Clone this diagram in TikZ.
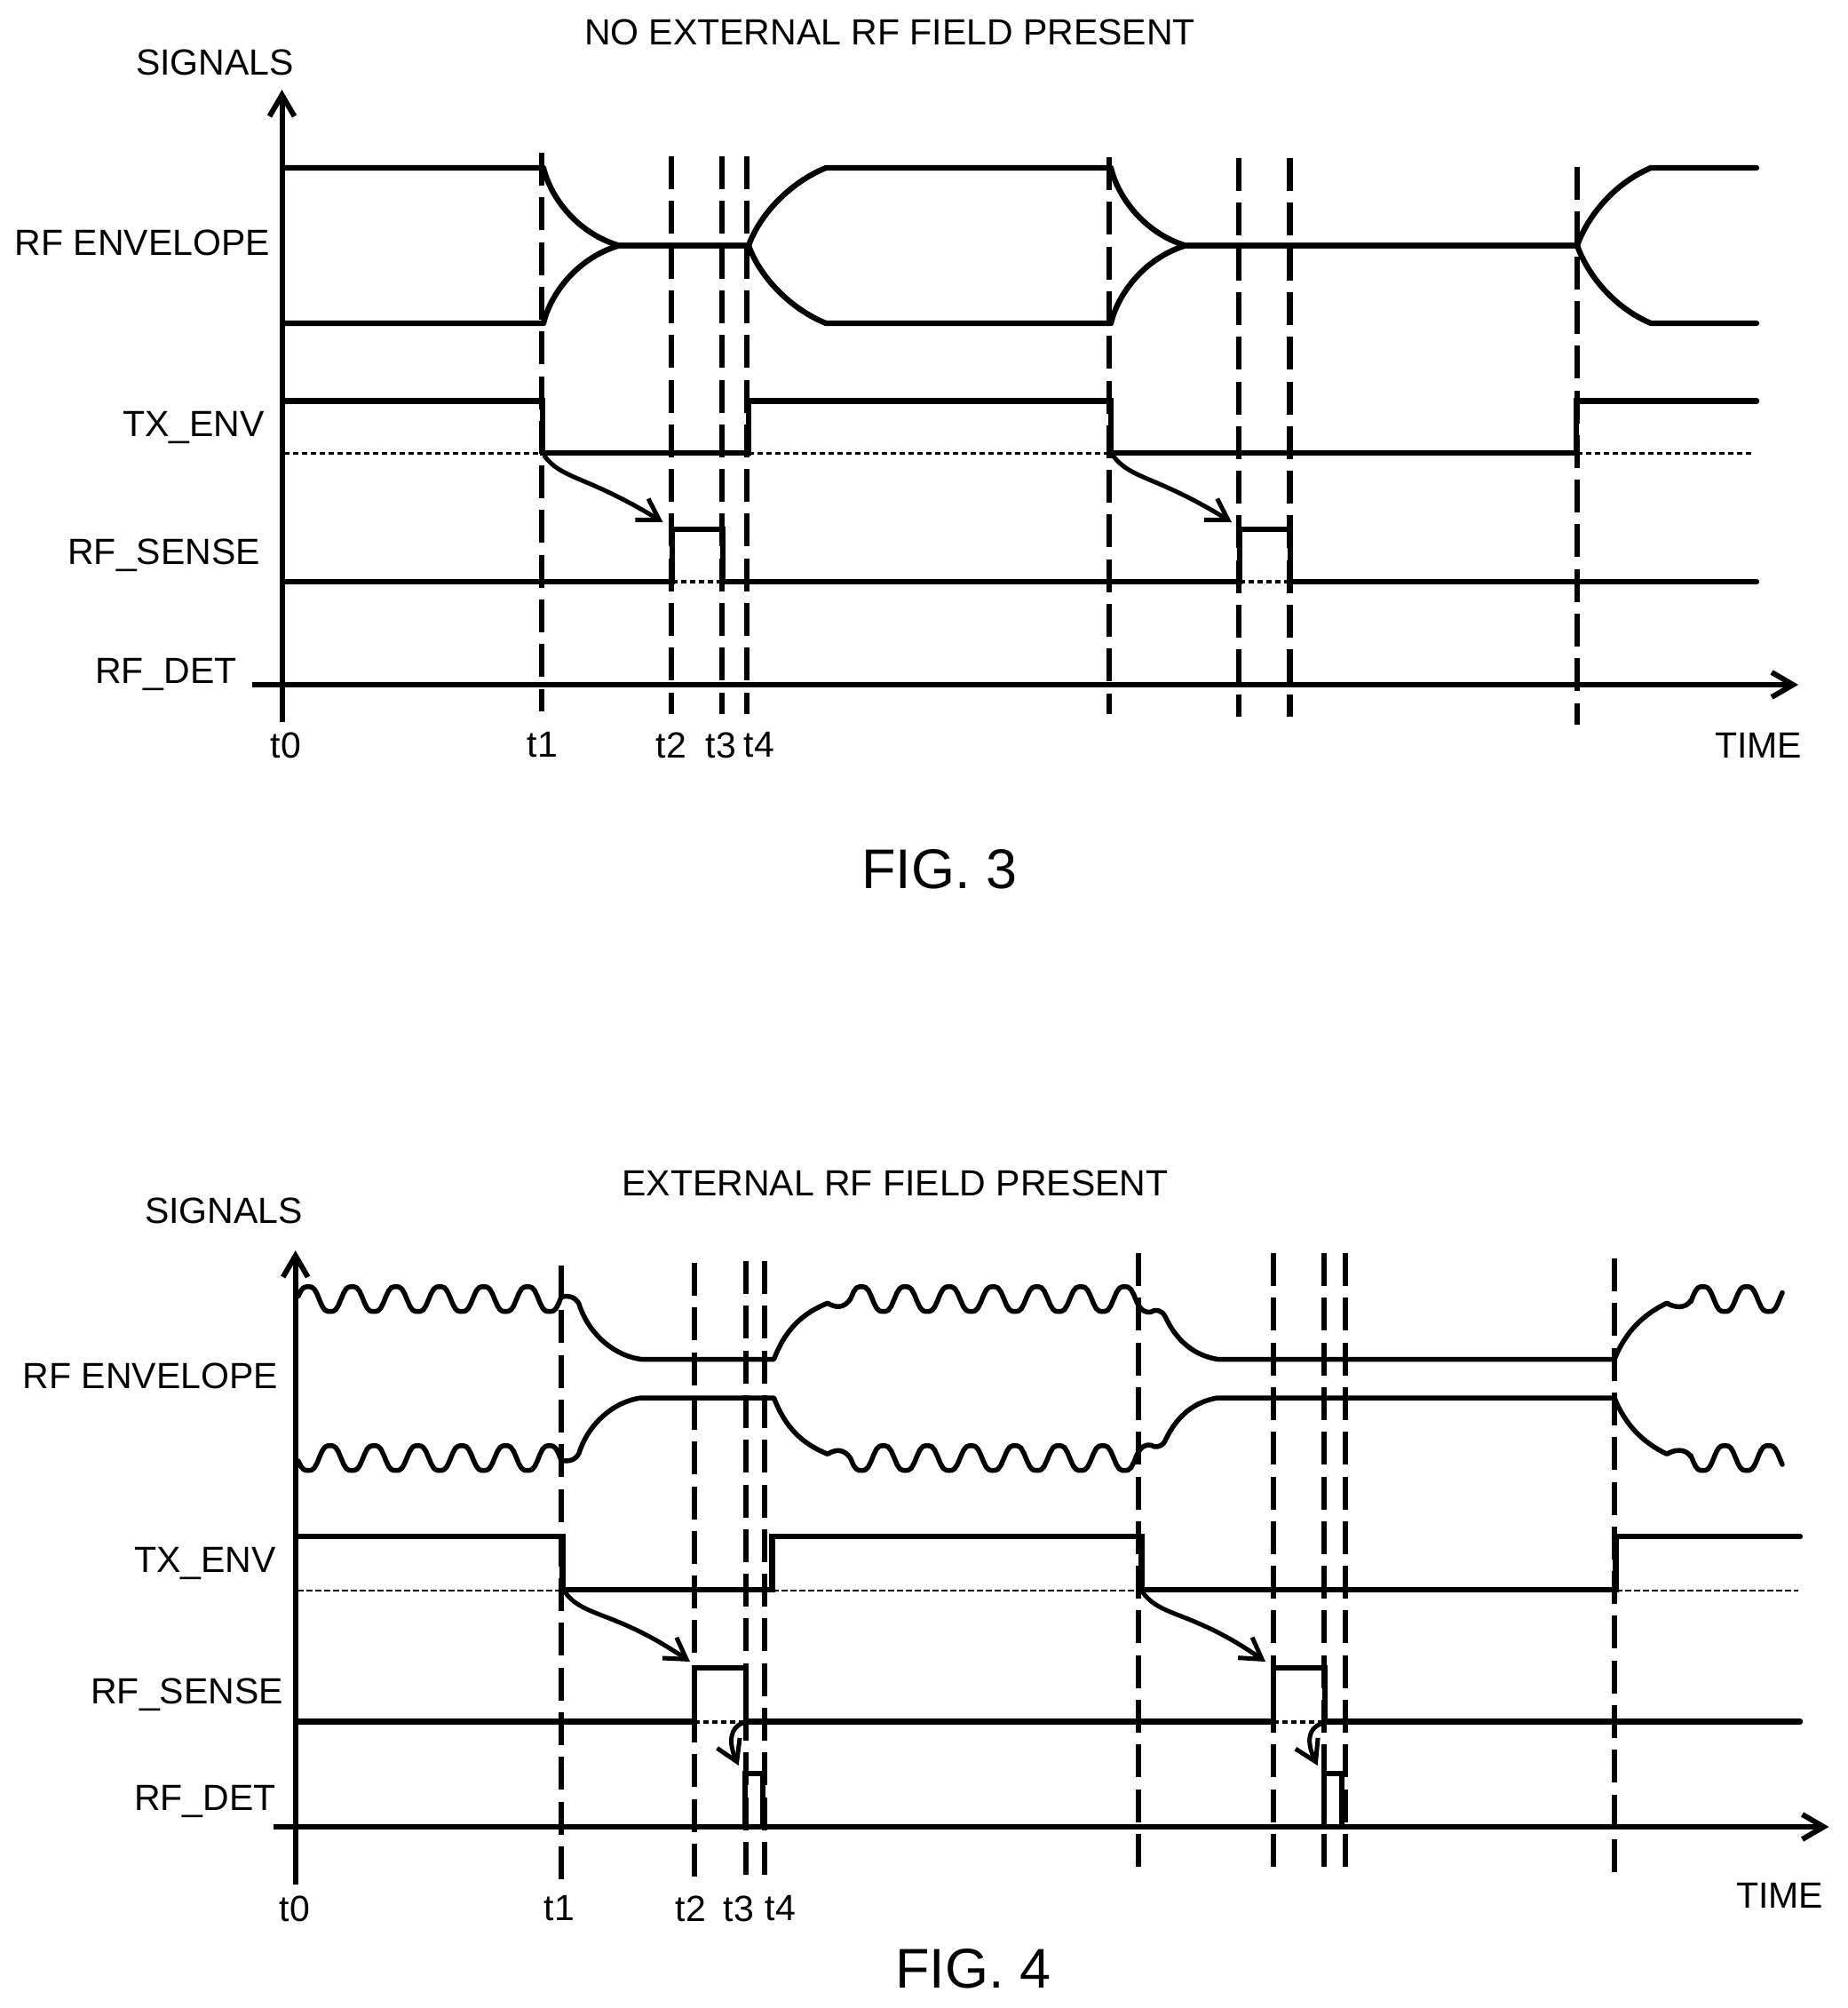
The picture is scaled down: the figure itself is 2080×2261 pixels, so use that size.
\documentclass[tikz,border=0pt]{standalone}
\usepackage{fontspec}
\setmainfont{Liberation Sans}
\usetikzlibrary{arrows.meta, calc}
\tikzset{
    x=1pt, y=-1pt,
    % --- text styles ---
    styleLabel/.style={inner sep=0pt, font=\fontsize{41}{49}\selectfont},
    styleSig/.style={styleLabel, anchor=east},
    styleFig/.style={inner sep=0pt, font=\fontsize{63}{75}\selectfont},
    % --- line styles ---
    axis/.style={line width=6pt, -{Straight Barb[length=24pt, width=28pt]}},
    trace/.style={line width=6.3pt, line join=miter, line cap=round},
    envLine/.style={line width=6.3pt, line join=round, line cap=round},
    envThin/.style={line width=5.5pt, line join=round, line cap=round},
    timeMark/.style={line width=6.2pt, dash pattern=on 37pt off 13.3pt},
    lowDots/.style={line width=3pt, dash pattern=on 6pt off 4pt},
    lowDash/.style={line width=2pt, dash pattern=on 7pt off 3pt},
    pulseDots/.style={line width=4pt, dash pattern=on 6pt off 4pt},
    causeArrow/.style={line width=5pt, -{Straight Barb[length=23pt, width=28pt]}}
}
% ripple on the RF envelope, with the x of one crest
\newcommand{\rfRipple}[1]{-89.5-15.5*cos(7.287*(\x-#1))+1.5*cos(21.86*(\x-#1))}

\begin{document}
\begin{tikzpicture}
	\useasboundingbox (0,0) rectangle (2080,2261);

	% =========================================================
	% FIG. 3
	% =========================================================
	\node[styleLabel] (title3) at (1002,36) {NO EXTERNAL RF FIELD PRESENT};
	\node[styleLabel] (signals3) at (242,70) {SIGNALS};
	\node[styleSig] (env3) at (304,273) {RF ENVELOPE};
	\node[styleSig] (tx3) at (298,481) {TX\_ENV};
	\node[styleSig] (sense3) at (293,625) {RF\_SENSE};
	\node[styleSig] (det3) at (267,759) {RF\_DET};
	\node[styleLabel] (t0a) at (322,839) {t0};
	\node[styleLabel] (t1a) at (611,839) {t1};
	\node[styleLabel] (t2a) at (756,839) {t2};
	\node[styleLabel] (t3a) at (812,839) {t3};
	\node[styleLabel] (t4a) at (855,839) {t4};
	\node[styleLabel] (time3) at (1980,839) {TIME};
	\node[styleFig] (fig3) at (1058,979) {FIG. 3};

	% --- axes ---
	\coordinate (y3a) at (317.5,813);
	\coordinate (y3b) at (317.5,101);
	\coordinate (x3a) at (284,771);
	\coordinate (x3b) at (2025,771);
	\draw [axis] (y3a) -- (y3b);
	\draw [axis] (x3a) -- (x3b);

	% --- time markers ---
	\foreach \n/\x/\a/\b in {a/610/172/801, b/756/176/804, c/813/176/804, d/841/176/804,
			e/1249/177/804, f/1395/178/807, g/1452.5/178/807, h/1776/188/816} {
			\coordinate (m3\n top) at (\x,\a);
			\coordinate (m3\n bot) at (\x,\b);
			\draw [timeMark] (m3\n top) -- (m3\n bot);
		}

	% --- RF envelope ---
	\foreach \s in {-1,1} {
			\begin{scope}[shift={(0,276.5)}, y=\s pt]
				\draw [envLine] (320,-87.5) -- (612,-87.5)
					.. controls (620,-54) and (650,-14) .. (697,0) -- (843,0)
					.. controls (856,-36) and (890,-71) .. (930,-87.5) -- (1251,-87.5)
					.. controls (1259,-54) and (1289,-14) .. (1335,0) -- (1776,0)
					.. controls (1789,-36) and (1820,-71) .. (1859,-87.5) -- (1978,-87.5);
			\end{scope}
		}

	% --- TX_ENV ---
	\draw [lowDots] (320,510) -- (611,510);
	\draw [lowDots] (843,510) -- (1251,510);
	\draw [lowDots] (1776,510) -- (1974,510);
	\draw [trace] (320,451.5) -- (611,451.5) -- (611,510) -- (843,510) -- (843,451.5)
		-- (1251,451.5) -- (1251,510) -- (1775,510) -- (1775,451.5) -- (1978,451.5);

	% --- RF_SENSE ---
	\draw [pulseDots] (757,655) -- (814,655);
	\draw [pulseDots] (1396,655) -- (1453,655);
	\draw [trace] (320,655) -- (757,655) -- (757,596) -- (814,596) -- (814,655);
	\draw [trace] (814,655) -- (1396,655) -- (1396,596) -- (1453,596) -- (1453,655) -- (1978,655);

	% --- cause arrows ---
	\coordinate (c3a) at (612.6,512.6);
	\coordinate (e3a) at (746.5,588);
	\coordinate (c3b) at (1253,512.6);
	\coordinate (e3b) at (1387,588);
	\draw [causeArrow] (c3a) .. controls (632,540) and (660,535) .. (e3a);
	\draw [causeArrow] (c3b) .. controls (1273,540) and (1301,535) .. (e3b);

	% =========================================================
	% FIG. 4
	% =========================================================
	\node[styleLabel] (title4) at (1008,1332) {EXTERNAL RF FIELD PRESENT};
	\node[styleLabel] (signals4) at (252,1363) {SIGNALS};
	\node[styleSig] (env4) at (313,1549) {RF ENVELOPE};
	\node[styleSig] (tx4) at (311,1760) {TX\_ENV};
	\node[styleSig] (sense4) at (319,1908.5) {RF\_SENSE};
	\node[styleSig] (det4) at (311,2028) {RF\_DET};
	\node[styleLabel] (t0b) at (332,2149) {t0};
	\node[styleLabel] (t1b) at (630,2149) {t1};
	\node[styleLabel] (t2b) at (778,2149) {t2};
	\node[styleLabel] (t3b) at (832,2149) {t3};
	\node[styleLabel] (t4b) at (879,2149) {t4};
	\node[styleLabel] (time4) at (2004,2134) {TIME};
	\node[styleFig] (fig4) at (1096,2217) {FIG. 4};

	% --- axes ---
	\coordinate (y4a) at (332.7,2122);
	\coordinate (y4b) at (332.7,1408);
	\coordinate (x4a) at (308,2057);
	\coordinate (x4b) at (2059.5,2057);
	\draw [axis] (y4a) -- (y4b);
	\draw [axis] (x4a) -- (x4b);

	% --- time markers ---
	\foreach \n/\x/\a/\b in {a/632/1425/2117, b/782/1422/2114, c/840/1420/2114, d/861/1420/2114,
			e/1282/1411/2102, f/1434/1411/2102, g/1491/1411/2102, h/1515/1411/2102, i/1818/1417/2108} {
			\coordinate (m4\n top) at (\x,\a);
			\coordinate (m4\n bot) at (\x,\b);
			\draw [timeMark] (m4\n top) -- (m4\n bot);
		}

	% --- RF envelope ---
	\foreach \s in {-1,1} {
			\begin{scope}[shift={(0,1552.25)}, y=\s pt]
				\draw [envThin] plot[domain=336:632, samples=100] (\x,{\rfRipple{347}})
					.. controls (640,-94) and (648,-92) .. (652,-84)
					.. controls (662,-52) and (690,-26) .. (722,-21.75) -- (871.5,-21.75)
					.. controls (885,-57) and (905,-74) .. (932,-85)
					.. controls (940,-80) and (950,-78) .. (958,-90)
					-- plot[domain=958:1280, samples=100] (\x,{\rfRipple{970}})
					.. controls (1285,-76) and (1290,-74) .. (1296,-75)
					.. controls (1300,-78) and (1308,-78) .. (1312,-70)
					.. controls (1325,-42) and (1345,-26) .. (1371,-21.75) -- (1818,-21.75)
					.. controls (1830,-52) and (1850,-72) .. (1877,-85)
					.. controls (1885,-80) and (1898,-78) .. (1904,-88)
					-- plot[domain=1904:2007, samples=40] (\x,{\rfRipple{1917.5}});
			\end{scope}
		}

	% --- TX_ENV ---
	\draw [lowDash] (335,1791) -- (633,1791);
	\draw [lowDash] (870,1791) -- (1285,1791);
	\draw [lowDash] (1820,1791) -- (2025,1791);
	\draw [trace] (335,1730) -- (633.5,1730) -- (633.5,1790) -- (869.5,1790) -- (869.5,1730)
		-- (1285.5,1730) -- (1285.5,1790) -- (1819.5,1790) -- (1819.5,1730) -- (2027,1730);

	% --- RF_SENSE ---
	\draw [pulseDots] (782,1938.5) -- (840,1938.5);
	\draw [pulseDots] (1434,1938.5) -- (1492,1938.5);
	\draw [trace] (335,1938.5) -- (781.7,1938.5) -- (781.7,1878) -- (840,1878) -- (840,1938.5);
	\draw [trace] (840,1938.5) -- (1434,1938.5) -- (1434,1878) -- (1492,1878) -- (1492,1938.5) -- (2027,1938.5);

	% --- RF_DET pulses ---
	\draw [trace] (839,2057) -- (839,1997) -- (859,1997) -- (859,2057);
	\draw [trace] (1490.7,2057) -- (1490.7,1997) -- (1511,1997) -- (1511,2057);

	% --- cause arrows ---
	\coordinate (c4a) at (635,1791);
	\coordinate (e4a) at (777,1871);
	\coordinate (c4b) at (1285.5,1791);
	\coordinate (e4b) at (1425,1871);
	\coordinate (d4a) at (836.7,1940);
	\coordinate (f4a) at (831.7,1988);
	\coordinate (d4b) at (1487.5,1941);
	\coordinate (f4b) at (1483.7,1988);
	\draw [causeArrow] (c4a) .. controls (656,1822) and (690,1812) .. (e4a);
	\draw [causeArrow] (c4b) .. controls (1306,1822) and (1340,1812) .. (e4b);
	\draw [causeArrow] (d4a) .. controls (822,1945) and (820,1962) .. (f4a);
	\draw [causeArrow] (d4b) .. controls (1473,1946) and (1471,1962) .. (f4b);

\end{tikzpicture}
\end{document}
